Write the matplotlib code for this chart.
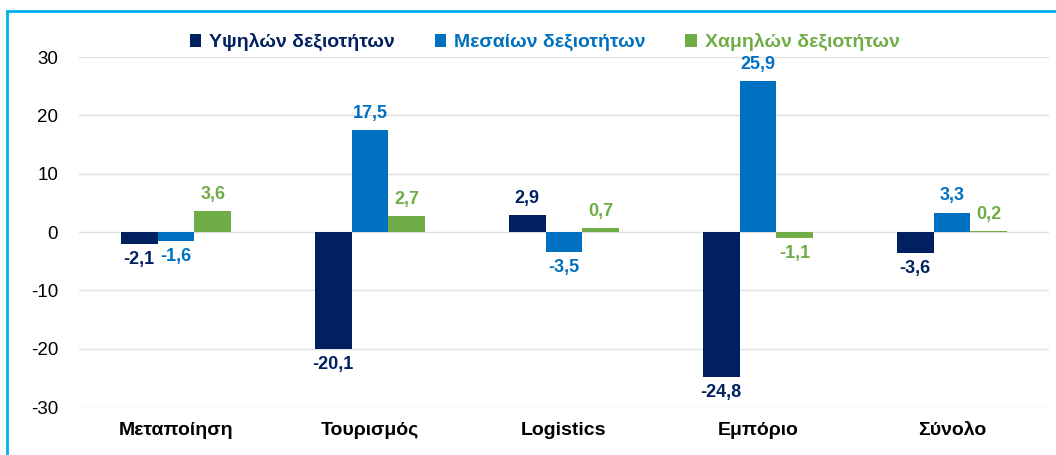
import numpy as np
import matplotlib.pyplot as plt
from matplotlib.patches import Rectangle

plt.rcParams['font.family'] = ['Liberation Sans', 'DejaVu Sans']
plt.rcParams['axes.unicode_minus'] = False

categories = ["Μεταποίηση", "Τουρισμός", "Logistics", "Εμπόριο", "Σύνολο"]
series_names = ["Υψηλών δεξιοτήτων", "Μεσαίων δεξιοτήτων", "Χαμηλών δεξιοτήτων"]
high = [-2.1, -20.1, 2.9, -24.8, -3.6]
mid = [-1.6, 17.5, -3.5, 25.9, 3.3]
low = [3.6, 2.7, 0.7, -1.1, 0.2]
colors = ["#002060", "#0070C0", "#70AD47"]

fig = plt.figure(figsize=(10.56, 4.55), dpi=100)
ax = fig.add_axes([79/1056, 1-407/455, 970/1056, 350/455])

x = np.arange(len(categories))
w = 0.19
for i, (vals, c, name) in enumerate(zip([high, mid, low], colors, series_names)):
    pos = x + (i - 1) * w
    ax.bar(pos, vals, w, color=c, label=name, zorder=3)
    for p, v in zip(pos, vals):
        txt = f"{v:.1f}".replace(".", ",")
        if v >= 0:
            ax.annotate(txt, (p, v), xytext=(0, 6), textcoords="offset points",
                        ha="center", va="bottom", fontsize=13, fontweight="bold", color=c)
        else:
            ax.annotate(txt, (p, v), xytext=(0, -5), textcoords="offset points",
                        ha="center", va="top", fontsize=13, fontweight="bold", color=c)

ax.set_xlim(-0.5, len(categories) - 0.5)
ax.set_ylim(-30, 30)
ax.set_yticks(range(-30, 31, 10))
ax.grid(axis="y", color="#E0E0E0", linewidth=1, zorder=0)
for s in ax.spines.values():
    s.set_visible(False)
ax.tick_params(axis="both", length=0)
ax.tick_params(axis="y", labelsize=13.5, pad=15)
ax.set_xticks(x)
ax.set_xticklabels(categories, fontsize=14, fontweight="bold")
ax.tick_params(axis="x", pad=11)

leg = ax.legend(loc="upper center", bbox_to_anchor=(0.48, 1.118), ncol=3, frameon=False,
                fontsize=14, handlelength=0.6, handleheight=0.6, handletextpad=0.4,
                columnspacing=2.05)
for t, c in zip(leg.get_texts(), colors):
    t.set_color(c)
    t.set_fontweight("bold")

fig.patches.append(Rectangle((7/1056, -0.1), 1.2, 1 - 11/455 + 0.1, transform=fig.transFigure,
                             fill=False, edgecolor="#00B0F0", linewidth=2))

fig.savefig("out.png", dpi=100)
